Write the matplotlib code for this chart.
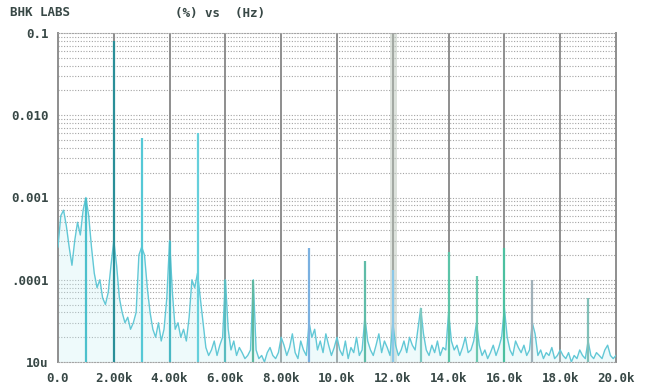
import numpy as np
import matplotlib.pyplot as plt

# residual spectrum, 0.1 kHz steps, values in micro-units
freq_khz = np.arange(0, 201) / 10.0
floor_u = [
    250, 600, 700, 450, 250, 150, 300, 500, 350, 700,   # 0k
    1000, 600, 250, 120, 80, 100, 60, 50, 70, 150,      # 1k
    300, 150, 60, 40, 30, 35, 25, 30, 40, 200,          # 2k
    250, 200, 80, 40, 25, 20, 30, 18, 25, 60,           # 3k
    300, 70, 25, 30, 20, 25, 18, 35, 100, 80,           # 4k
    120, 60, 30, 15, 12, 14, 18, 12, 16, 20,            # 5k
    100, 25, 14, 18, 12, 15, 13, 11, 12, 14,            # 6k
    100, 14, 11, 12, 10, 13, 15, 12, 11, 13,            # 7k
    20, 16, 12, 15, 22, 13, 11, 18, 14, 12,             # 8k
    30, 20, 25, 14, 18, 13, 22, 16, 12, 15,             # 9k
    20, 14, 12, 18, 11, 15, 13, 20, 12, 14,             # 10k
    35, 18, 14, 12, 16, 22, 13, 18, 15, 12,             # 11k
    30, 16, 12, 14, 18, 13, 20, 16, 14, 25,             # 12k
    45, 22, 14, 12, 16, 13, 18, 12, 15, 14,             # 13k
    40, 18, 14, 16, 12, 15, 20, 13, 14, 18,             # 14k
    30, 16, 12, 14, 11, 13, 16, 12, 15, 20,             # 15k
    45, 20, 14, 12, 18, 15, 13, 16, 12, 14,             # 16k
    30, 22, 12, 14, 11, 13, 12, 15, 11, 12,             # 17k
    14, 12, 11, 13, 10, 12, 11, 14, 12, 11,             # 18k
    18, 12, 11, 13, 12, 11, 14, 16, 12, 11,             # 19k
    12,
]

# harmonic / spur peaks (kHz, value)
peak_khz = [1.0, 2.0, 3.0, 4.0, 5.0, 6.0, 7.0, 9.0, 11.0, 12.0, 13.0, 14.0, 15.0, 16.0, 17.0, 19.0]
peak_val = [1.0e-3, 8e-2, 5.3e-3, 3e-4, 6e-3, 1e-4, 1e-4, 2.4e-4, 1.7e-4, 1.3e-4, 4.5e-5, 2.2e-4, 1.1e-4, 2.4e-4, 1e-4, 6e-5]
peak_col = ["#4cc0cc", "#2a8f98", "#55c8d6", "#4ab8c4", "#66d0dc", "#5abcc0", "#5fb8a0",
            "#7ab0e0", "#60bca8", "#8cc8e8", "#7cc8c0", "#5cc4a8", "#6cc8b0", "#4cc0a0",
            "#a0b0b8", "#80c0b8"]

x_ticks = [0, 2, 4, 6, 8, 10, 12, 14, 16, 18, 20]
x_labels = ["0.0", "2.00k", "4.00k", "6.00k", "8.00k", "10.0k", "12.0k", "14.0k", "16.0k", "18.0k", "20.0k"]
y_ticks = [1e-5, 1e-4, 1e-3, 1e-2, 1e-1]
y_labels = ["10u", ".0001", "0.001", "0.010", "0.1"]

txt = "#384846"
font = dict(family="DejaVu Sans Mono", weight="bold", color=txt, fontsize=9)

fig = plt.figure(figsize=(6.49, 3.86), dpi=100)
ax = fig.add_axes([58 / 649, 1 - 362 / 386, 558 / 649, 329 / 386])
ax.set_yscale("log")
ax.set_xlim(0, 20)
ax.set_ylim(1e-5, 1e-1)

# grid: dotted decades and minors, solid verticals every 2k
for dec in [1e-5, 1e-4, 1e-3, 1e-2]:
    for m in range(1, 10):
        ax.axhline(dec * m, color="#a4a4a4", lw=0.8, ls=(0, (1, 1.5)), zorder=1)
for x in x_ticks[1:-1]:
    ax.axvline(x, color="#8e8e8e", lw=1.4, zorder=1)
# scanner smear near 12k
ax.axvline(12, color="#b8c4b8", lw=5, alpha=0.5, zorder=1)

# trace
floor = np.array(floor_u) * 1e-6
ax.plot(freq_khz, floor, color="#62c8d6", lw=1.0, zorder=3)
ax.fill_between(freq_khz, 1e-5, floor, color="#c8f0f4", alpha=0.3, lw=0, zorder=2)
for f, v, c in zip(peak_khz, peak_val, peak_col):
    ax.vlines(f, 1e-5, v, color=c, lw=1.6, zorder=3)

for s in ["left", "right"]:
    ax.spines[s].set_color("#8e8e8e")
    ax.spines[s].set_linewidth(1.4)
for s in ["top", "bottom"]:
    ax.spines[s].set_color("#a4a4a4")
    ax.spines[s].set_linestyle((0, (1, 1.5)))

ax.set_xticks(x_ticks)
ax.set_xticklabels(x_labels, **font)
ax.set_yticks(y_ticks)
ax.set_yticklabels(y_labels, **font)
ax.yaxis.set_minor_locator(plt.NullLocator())
ax.tick_params(length=0, pad=7)

fig.text(10 / 649, 1 - 13 / 386, "BHK LABS", ha="left", va="center", **font)
fig.text(175 / 649, 1 - 13 / 386, "(%) vs  (Hz)", ha="left", va="center", **font)

fig.savefig("out.png", dpi=100)
